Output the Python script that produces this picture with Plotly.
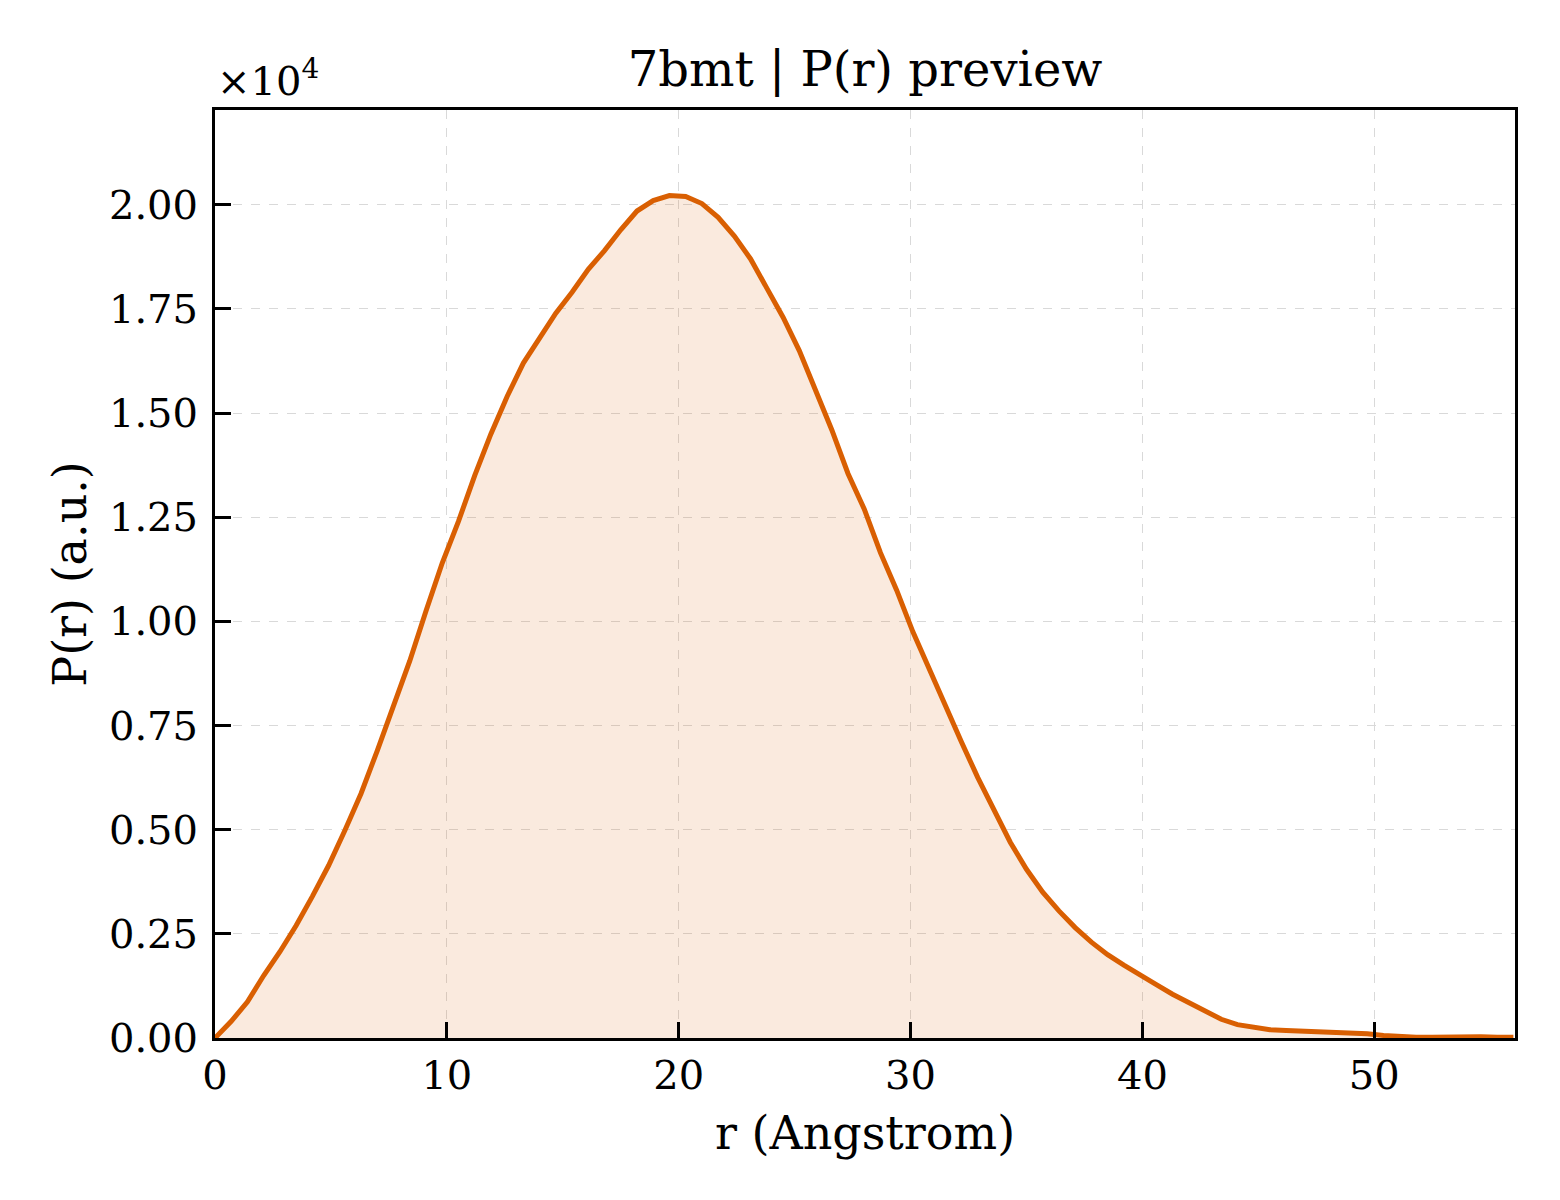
import plotly.graph_objects as go

r_vals = [0.0, 0.7, 1.4, 2.1, 2.8, 3.5, 4.2, 4.9, 5.6, 6.3, 7.0, 7.7, 8.4, 9.1, 9.8,
          10.5, 11.2, 11.9, 12.6, 13.3, 14.0, 14.7, 15.4, 16.1, 16.8, 17.5, 18.2, 18.9,
          19.6, 20.3, 21.0, 21.7, 22.4, 23.1, 23.8, 24.5, 25.2, 25.9, 26.6, 27.3, 28.0,
          28.7, 29.4, 30.1, 30.8, 31.5, 32.2, 32.9, 33.6, 34.3, 35.0, 35.7, 36.4, 37.1,
          37.8, 38.5, 39.2, 39.9, 40.6, 41.3, 42.0, 42.7, 43.4, 44.1, 44.8, 45.5, 46.2,
          46.9, 47.6, 48.3, 49.0, 49.7, 50.4, 51.1, 51.8, 52.5, 53.2, 53.9, 54.6, 55.3, 56.0]
pr_e4 = [0.0, 0.04, 0.087, 0.15, 0.207, 0.27, 0.34, 0.414, 0.498, 0.587, 0.69, 0.795,
         0.905, 1.025, 1.14, 1.24, 1.35, 1.45, 1.54, 1.62, 1.68, 1.74, 1.79, 1.845, 1.89,
         1.94, 1.985, 2.01, 2.022, 2.02, 2.003, 1.97, 1.925, 1.87, 1.80, 1.73, 1.65, 1.555,
         1.46, 1.355, 1.27, 1.165, 1.075, 0.975, 0.885, 0.795, 0.71, 0.625, 0.545, 0.47,
         0.405, 0.35, 0.305, 0.265, 0.23, 0.2, 0.175, 0.15, 0.128, 0.105, 0.085, 0.062,
         0.045, 0.032, 0.025, 0.02, 0.018, 0.017, 0.016, 0.014, 0.012, 0.01, 0.006, 0.003,
         0.002, 0.002, 0.003, 0.003, 0.003, 0.002, 0.002]

x_ticks = [0, 10, 20, 30, 40, 50]
y_ticks = [0.0, 0.25, 0.5, 0.75, 1.0, 1.25, 1.5, 1.75, 2.0]
y_ticklabels = ['0.00', '0.25', '0.50', '0.75', '1.00', '1.25', '1.50', '1.75', '2.00']

line_col = '#D95F02'
font_fam = 'DejaVu Serif'

fig = go.Figure()
fig.add_trace(go.Scatter(x=r_vals, y=pr_e4, mode='lines',
                         line=dict(color=line_col, width=5),
                         fill='tozeroy', fillcolor='rgba(217,95,2,0.13)',
                         showlegend=False))

# page body has a small margin, so the figure is a bit smaller than the window
fig.update_layout(
    width=1552, height=1192,
    margin=dict(l=207, r=45, t=102, b=162),
    paper_bgcolor='white', plot_bgcolor='white',
    font=dict(family=font_fam, size=40, color='black'),
    title=dict(text='7bmt | P(r) preview', x=0.5, xref='paper', xanchor='center',
               y=1, yref='paper', yanchor='bottom', pad=dict(b=24),
               font=dict(family=font_fam, size=48)),
)

fig.update_xaxes(range=[0, 56.07], tickvals=x_ticks, ticks='inside', ticklen=16,
                 tickwidth=2.5, tickcolor='black', showline=True, linecolor='black',
                 linewidth=3, mirror=True, showgrid=True, gridcolor='#d9d9d9',
                 griddash='dash', gridwidth=1.2, zeroline=False,
                 title=dict(text='r (Angstrom)', font=dict(size=46), standoff=20))
fig.update_yaxes(range=[0, 2.2275], tickvals=y_ticks, ticktext=y_ticklabels,
                 ticks='inside', ticklen=16, tickwidth=2.5, tickcolor='black',
                 showline=True, linecolor='black', linewidth=3, mirror=True,
                 showgrid=True, gridcolor='#d9d9d9', griddash='dash', gridwidth=1.2,
                 zeroline=False, ticklabelstandoff=6,
                 title=dict(text='P(r) (a.u.)', font=dict(size=46), standoff=8))

# offset label like matplotlib's scientific notation
fig.add_annotation(text='×10<sup>4</sup>', xref='paper', yref='paper', x=0, y=1,
                   xanchor='left', yanchor='bottom', yshift=4, showarrow=False,
                   font=dict(family=font_fam, size=40))

fig.write_html("out.html")
